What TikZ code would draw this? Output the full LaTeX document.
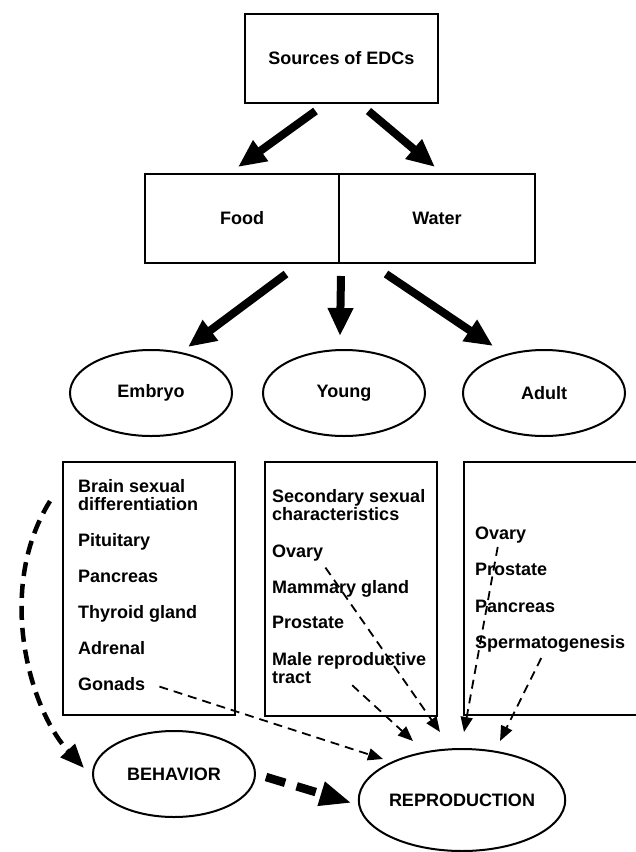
\documentclass[tikz,border=0pt]{standalone}
\usepackage{fontspec}
\setmainfont{Liberation Sans}
\usetikzlibrary{arrows.meta}
\usetikzlibrary{shapes.geometric}
\usetikzlibrary{positioning}

\newcommand{\twolines}[2]{\begin{tabular}[t]{@{}l@{}}#1\\#2\end{tabular}}

\begin{document}
\begin{tikzpicture}[x=1pt,y=-1pt,
  every node/.style={font=\fontsize{18}{18.5}\selectfont\bfseries},
  box/.style={draw,line width=2pt,rectangle,inner sep=0pt},
  stage/.style={draw,line width=2pt,ellipse,inner sep=0pt,minimum width=162pt,minimum height=86pt},
  item/.style={anchor=base west,inner sep=0pt},
  feed/.style={line width=8pt,-{Triangle[length=28pt,width=24pt]}},
  link/.style={line width=1.8pt,dash pattern=on 9pt off 6pt,-{Triangle[length=15pt,width=12pt]}},
  lure/.style={line width=4.5pt,dash pattern=on 14pt off 8pt,-{Triangle[length=24pt,width=19pt]}},
  push/.style={line width=8.5pt,dash pattern=on 20pt off 12pt,-{Triangle[length=32pt,width=23pt]}}]
\useasboundingbox (0,0) rectangle (635,852);

\node[box,minimum width=193pt,minimum height=89pt] (src) at (341.5,58.5) {Sources of EDCs};
\node[box,minimum width=194pt,minimum height=89pt] (food) at (242,218.5) {Food};
\node[box,minimum width=196pt,minimum height=89pt] (water) at (437,218.5) {Water};

\node[stage] (embryo) at (151,393) {Embryo};
\node[stage] (young) at (344,393) {Young};
\node[stage] (adult) at (544,393) {Adult};

\node[box,minimum width=172pt,minimum height=253pt] (boxA) at (149,588.5) {};
\node[box,minimum width=172pt,minimum height=254pt] (boxB) at (351,589) {};
\node[box,minimum width=180pt,minimum height=253pt] (boxC) at (554,588.5) {};

\node[item] (brain) at (78,492) {\twolines{Brain sexual}{differentiation}};
\node[item] (pituitary) at (78,546) {Pituitary};
\node[item] (pancreasA) at (78,582) {Pancreas};
\node[item] (thyroid) at (78,618) {Thyroid gland};
\node[item] (adrenal) at (78,654) {Adrenal};
\node[item] (gonads) at (78,690) {Gonads};

\node[item] (secondary) at (272,502) {\twolines{Secondary sexual}{characteristics}};
\node[item] (ovaryB) at (272,557) {Ovary};
\node[item] (mammary) at (272,593) {Mammary gland};
\node[item] (prostateB) at (272,628) {Prostate};
\node[item] (male) at (272,665) {\twolines{Male reproductive}{tract}};

\node[item] (ovaryC) at (475,539) {Ovary};
\node[item] (prostateC) at (475,575) {Prostate};
\node[item] (pancreasC) at (475,612) {Pancreas};
\node[item] (sperm) at (475,648) {Spermatogenesis};

\node[stage] (behavior) at (174,774) {BEHAVIOR};
\node[stage,minimum width=182pt,minimum height=102pt] (repro) at (462,800) {REPRODUCTION};

\draw[feed] ([shift={(-26,7)}]src.south) -- ([shift={(-4,-6)}]food.north);
\draw[feed] ([shift={(27,7)}]src.south) -- ([shift={(-2,-6)}]water.north);

\draw[feed] ([shift={(-54,10)}]food.south east) -- ([shift={(37,-2)}]embryo.north);
\draw[feed] ([shift={(1,12)}]food.south east) -- ([shift={(-4,-13)}]young.north);
\draw[feed] ([shift={(48,10)}]water.south west) -- ([shift={(-51,-3)}]adult.north);

\draw[link] ([shift={(14,3)}]gonads.east) -- ([shift={(-79,11)}]repro.north);
\draw[link] ([shift={(2,15)}]ovaryB.east) -- ([shift={(-22,-16)}]repro.north);
\draw[link] ([shift={(3,-4)}]male.south) -- ([shift={(-49,-7)}]repro.north);
\draw[link] ([shift={(-3,4)}]ovaryC.south) -- ([shift={(2,-16)}]repro.north);
\draw[link] ([shift={(-9,6)}]sperm.south) -- ([shift={(38,-7)}]repro.north);

\draw[lure] ([shift={(-28,3.5)}]brain.west) .. controls (-5,590) and (30,710) .. ([shift={(-8,-6)}]behavior.west);
\draw[push] ([shift={(10,3)}]behavior.east) -- ([shift={(-6,3)}]repro.west);
\end{tikzpicture}
\end{document}
